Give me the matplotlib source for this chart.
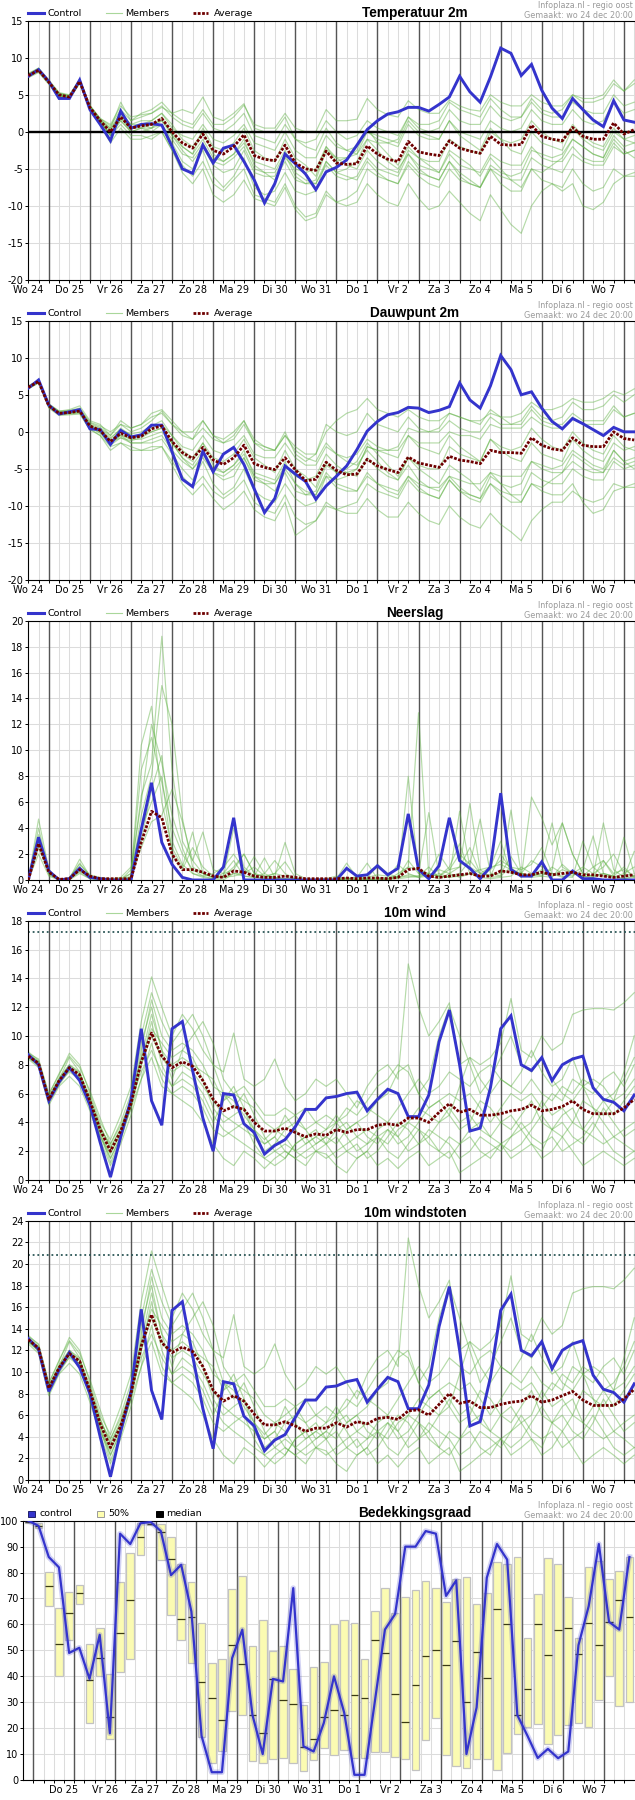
import numpy as np
import matplotlib
matplotlib.use("Agg")
import matplotlib.pyplot as plt
from matplotlib.lines import Line2D
from matplotlib.patches import Rectangle

plt.rcParams["font.family"] = ["DejaVu Sans"]
plt.rcParams["axes.unicode_minus"] = False

W, H = 635, 1800

# ---------------------------------------------------------------- data
day_labels = ["Wo 24", "Do 25", "Vr 26", "Za 27", "Zo 28", "Ma 29", "Di 30", "Wo 31",
              "Do 1", "Vr 2", "Za 3", "Zo 4", "Ma 5", "Di 6", "Wo 7"]
cloud_day_labels = day_labels[1:]

temp_control = [7.5, 8.4, 6.8, 4.5, 4.5, 7.0, 3.0, 1.0, -1.2, 2.8,
                0.5, 1.0, 1.1, 0.9, -2.0, -5.0, -5.6, -1.8, -4.2, -2.2,
                -1.8, -4.0, -6.5, -9.6, -7.0, -3.0, -4.3, -5.7, -7.8, -5.4,
                -4.8, -3.8, -1.8, 0.3, 1.5, 2.4, 2.7, 3.3, 3.3, 2.8,
                3.7, 4.7, 7.5, 5.4, 4.0, 7.4, 11.3, 10.6, 7.6, 9.1,
                5.6, 3.2, 1.8, 4.5, 3.0, 1.6, 0.7, 4.2, 1.6, 1.3]
temp_avg = [7.6, 8.3, 6.7, 5.0, 4.7, 6.8, 3.3, 1.5, 0.0, 2.0,
            0.5, 0.8, 1.0, 1.8, 0.0, -1.5, -2.2, -0.3, -2.5, -3.0,
            -2.0, -0.4, -3.2, -3.7, -3.9, -1.8, -4.2, -5.0, -5.2, -2.6,
            -4.2, -4.4, -4.3, -1.9, -3.0, -3.7, -4.0, -1.3, -2.7, -3.0,
            -3.2, -1.2, -2.2, -2.6, -2.9, -0.6, -1.7, -1.8, -1.7, 0.9,
            -0.6, -1.0, -1.2, 0.6, -0.6, -1.0, -1.0, 1.2, -0.3, 0.3]
temp_members = [
    [7.9, 8.6, 7.0, 5.3, 5.0, 7.1, 3.6, 1.8, 1.0, 3.5,
     2.0, 2.3, 2.5, 3.3, 2.5, 1.5, 1.0, 3.0, 1.0, 1.0,
     2.0, 3.6, 1.0, 0.5, 0.5, 2.5, 0.5, 0.0, 0.0, 3.0,
     1.5, 1.5, 1.7, 4.5, 3.0, 2.3, 2.0, 4.2, 3.0, 2.5,
     2.5, 4.3, 3.5, 3.0, 2.8, 5.0, 4.0, 3.5, 3.5, 5.0,
     4.0, 3.5, 3.5, 5.0, 4.5, 4.5, 5.0, 7.0, 5.5, 6.5],
    [7.3, 8.0, 6.4, 4.7, 4.4, 6.5, 3.0, 1.0, -1.5, 0.5,
     -1.0, -1.0, -0.5, 0.0, -2.5, -4.5, -6.0, -4.0, -7.0, -8.0,
     -6.5, -5.0, -8.5, -9.0, -9.5, -7.0, -10.0, -11.5, -11.0, -8.0,
     -9.5, -10.0, -9.5, -7.0, -8.5, -9.5, -10.0, -7.0, -9.0, -10.5,
     -10.0, -8.0, -9.5, -11.0, -12.0, -8.5, -10.5, -12.5, -13.7, -10.0,
     -8.0, -7.0, -7.5, -5.0, -7.0, -8.0, -7.5, -5.0, -6.0, -5.5],
    [7.7, 8.4, 6.8, 5.2, 4.9, 7.0, 3.5, 1.7, 0.5, 2.5,
     1.0, 1.5, 1.5, 2.5, 0.5, -0.5, -1.0, 1.0, -1.0, -1.5,
     -0.5, 1.0, -1.5, -2.0, -2.5, 0.0, -2.5, -3.5, -3.5, -0.5,
     -2.0, -2.5, -2.0, 0.0, -1.0, -1.5, -2.0, 1.0, -0.5, -1.0,
     -1.0, 1.5, 0.0, -0.5, -1.0, 1.5, 0.5, 0.0, 0.5, 3.0,
     1.5, 1.0, 1.0, 3.0, 1.5, 1.0, 1.5, 4.0, 2.5, 3.0],
    [7.5, 8.2, 6.6, 4.9, 4.6, 6.7, 3.2, 1.3, -0.5, 1.5,
     0.0, 0.0, 0.5, 1.0, -1.0, -3.0, -3.5, -1.5, -4.0, -4.5,
     -3.5, -2.0, -5.0, -5.5, -5.5, -3.0, -6.0, -7.0, -7.0, -4.5,
     -6.0, -6.5, -6.0, -3.5, -5.0, -5.5, -6.0, -3.0, -4.5, -5.0,
     -5.5, -3.0, -4.5, -5.0, -5.5, -3.0, -4.0, -4.5, -4.5, -2.0,
     -3.5, -4.0, -4.0, -2.0, -3.5, -4.0, -4.0, -1.5, -3.0, -2.5],
    [7.6, 8.3, 6.7, 5.0, 4.7, 6.8, 3.3, 1.5, -0.5, 2.0,
     0.0, 0.5, 0.0, 1.0, -1.5, -4.0, -5.0, -2.5, -6.0, -7.5,
     -6.0, -3.5, -7.5, -8.5, -8.0, -5.5, -8.0, -8.5, -8.0, -4.0,
     -5.5, -5.0, -4.0, -1.0, -1.5, -1.5, -1.0, 2.0, 1.0, 1.0,
     1.5, 4.0, 3.0, 2.5, 2.0, 4.5, 3.0, 2.0, 2.0, 4.0,
     2.5, 2.0, 2.0, 4.0, 3.0, 2.5, 2.5, 5.0, 3.5, 4.0],
    [7.8, 8.5, 6.9, 5.2, 4.9, 7.0, 3.5, 1.8, 0.8, 3.0,
     1.5, 2.0, 2.5, 3.5, 2.0, 1.0, 0.5, 2.5, 0.5, 0.0,
     1.0, 2.5, -0.5, -1.0, -1.5, 1.0, -1.0, -2.0, -2.5, 0.5,
     -1.5, -2.5, -3.0, -1.0, -2.5, -4.0, -5.0, -3.0, -5.0, -6.0,
     -6.5, -4.0, -6.0, -7.0, -7.5, -5.0, -7.0, -8.0, -8.0, -5.0,
     -6.5, -7.0, -8.0, -7.0, -10.0, -10.5, -9.5, -7.0, -6.0, -6.0],
    [7.4, 8.1, 6.5, 4.8, 4.5, 6.6, 3.0, 1.2, -0.5, 1.0,
     -0.5, -0.5, -1.0, 0.0, -2.5, -5.5, -7.0, -5.0, -8.5, -9.5,
     -8.5, -6.5, -9.0, -9.5, -10.0, -7.5, -10.5, -12.0, -11.5, -8.5,
     -9.5, -9.0, -8.0, -5.0, -6.0, -6.5, -7.0, -4.0, -5.5, -6.0,
     -6.5, -4.0, -5.5, -6.5, -7.5, -5.0, -6.0, -6.5, -6.5, -3.5,
     -4.5, -5.0, -5.5, -3.0, -4.0, -4.5, -4.5, -2.0, -3.0, -2.5],
    [7.7, 8.6, 6.8, 5.1, 4.8, 6.9, 3.4, 1.6, 0.5, 4.0,
     1.5, 2.5, 3.0, 4.0, 2.5, 3.0, 2.5, 4.7, 2.0, 1.5,
     2.5, 3.8, 0.5, 0.0, 0.0, 2.0, -1.0, -1.5, -1.0, 1.5,
     0.0, -1.0, -0.5, 1.5, 0.5, 0.0, -0.5, 2.0, 0.5, 0.0,
     0.5, 3.0, 1.5, 1.0, 1.0, 3.5, 2.0, 1.5, 2.0, 4.5,
     3.0, 2.5, 3.0, 5.0, 4.0, 4.0, 4.5, 6.5, 5.5, 7.0],
    [7.6, 8.4, 6.7, 5.0, 4.6, 6.9, 3.2, 1.4, 0.2, 2.2,
     0.3, 1.0, 0.5, 2.0, -0.5, -2.0, -3.0, 0.5, -2.0, -2.5,
     -1.5, 0.5, -2.5, -3.5, -4.0, -1.0, -3.5, -4.5, -6.0, -2.0,
     -4.0, -3.5, -2.5, 0.5, -1.5, -3.0, -4.5, -2.0, -3.5, -4.5,
     -5.5, -2.5, -3.5, -4.5, -6.0, -3.5, -5.0, -6.5, -7.5, -5.0,
     -5.5, -4.5, -3.5, -1.0, -2.0, -3.0, -3.5, -0.5, -2.0, -1.5],
    [7.5, 8.2, 6.6, 4.9, 4.7, 6.8, 3.3, 1.5, 0.3, 2.5,
     1.0, 1.0, 1.5, 2.5, 1.0, -1.0, -2.0, 0.0, -3.0, -4.0,
     -3.0, -1.0, -4.5, -5.5, -6.5, -4.0, -6.5, -7.0, -6.5, -2.5,
     -3.5, -3.5, -3.0, 0.0, -0.5, -1.0, -1.5, 1.5, 0.0, -0.5,
     -1.0, 1.5, -0.5, -1.5, -2.5, 0.5, -1.0, -2.5, -3.0, 0.0,
     -1.5, -2.0, -2.5, 0.5, -1.0, -2.0, -2.5, 0.0, -1.0, -0.5],
    [7.8, 8.5, 6.8, 5.1, 4.8, 7.0, 3.4, 1.4, -0.3, 1.8,
     0.5, 0.5, 1.0, 1.5, 0.0, -2.0, -3.0, -1.0, -3.5, -4.0,
     -3.0, -1.5, -4.0, -4.5, -5.0, -2.5, -5.5, -6.5, -7.0, -4.0,
     -5.5, -6.0, -6.5, -4.0, -5.5, -6.5, -7.0, -4.5, -6.0, -7.0,
     -7.5, -5.0, -6.5, -7.0, -7.5, -4.5, -5.5, -6.0, -5.5, -2.5,
     -3.0, -3.5, -3.0, -1.0, -2.0, -3.0, -3.5, -1.0, -2.5, -3.5],
    [7.6, 8.3, 6.6, 4.9, 4.6, 6.6, 3.1, 1.2, -0.2, 1.5,
     0.0, 0.5, 0.5, 1.5, -0.5, -2.5, -4.0, -2.0, -4.5, -5.5,
     -5.0, -2.5, -5.5, -6.0, -6.0, -3.5, -5.0, -5.5, -5.0, -2.0,
     -3.5, -4.5, -5.0, -2.5, -4.0, -5.0, -5.5, -2.5, -3.5, -4.0,
     -4.0, -1.0, -2.0, -2.5, -3.0, 0.0, -1.0, -1.5, -1.0, 1.5,
     0.0, -1.0, -1.5, 1.0, -0.5, -1.5, -2.0, 0.5, -1.0, -1.5],
]

dew_control = [5.9, 7.0, 3.6, 2.4, 2.7, 3.0, 0.4, 0.3, -1.7, 0.2,
               -0.7, -0.4, 0.9, 0.9, -2.7, -6.4, -7.4, -2.6, -5.4, -3.0,
               -2.1, -4.4, -7.7, -10.9, -9.0, -4.6, -5.7, -6.7, -9.1, -7.3,
               -6.0, -4.6, -2.4, 0.1, 1.4, 2.3, 2.6, 3.3, 3.2, 2.6,
               2.9, 3.4, 6.6, 4.3, 3.2, 6.2, 10.3, 8.4, 5.0, 5.4,
               3.2, 1.4, 0.4, 1.8, 1.1, 0.3, -0.5, 0.6, 0.0, 0.0]
dew_avg = [6.0, 6.8, 3.5, 2.5, 2.6, 2.8, 0.8, 0.2, -1.3, -0.2,
           -0.8, -0.6, 0.4, 0.8, -1.3, -2.8, -3.6, -2.1, -3.8, -4.4,
           -3.5, -1.8, -4.3, -4.8, -5.1, -3.5, -5.1, -6.6, -6.4, -4.1,
           -5.2, -5.8, -5.7, -3.7, -4.6, -5.1, -5.5, -3.4, -4.2, -4.5,
           -4.8, -3.3, -3.8, -4.0, -4.3, -2.5, -2.8, -2.8, -2.9, -0.8,
           -1.8, -2.3, -2.5, -0.8, -1.8, -2.0, -2.0, 0.0, -0.9, -1.1]
dew_members = [
    [6.2, 7.0, 3.8, 2.8, 2.9, 3.2, 1.3, 0.8, 0.0, 1.0,
     0.5, 1.0, 2.0, 2.5, 1.0, 0.0, -1.0, 0.5, -1.0, -1.5,
     -1.0, 1.0, -1.5, -2.0, -2.5, -0.5, -2.0, -3.0, -3.0, 0.0,
     1.5, 2.5, 3.0, 4.5, 3.0, 2.5, 2.0, 3.0, 2.0, 1.5,
     1.5, 2.5, 2.0, 1.5, 1.5, 2.5, 2.0, 2.0, 2.5, 4.0,
     3.0, 3.0, 3.5, 4.5, 4.0, 4.0, 4.5, 5.5, 5.0, 5.8],
    [5.8, 6.6, 3.2, 2.2, 2.3, 2.4, 0.3, -0.5, -2.5, -1.5,
     -2.5, -2.5, -2.0, -2.0, -4.0, -6.0, -7.5, -6.0, -8.0, -9.0,
     -8.0, -6.5, -9.5, -10.5, -11.0, -8.5, -11.5, -12.5, -12.0, -9.5,
     -10.5, -11.0, -11.0, -9.0, -10.5, -11.5, -11.5, -9.5, -11.0, -12.0,
     -12.5, -10.0, -11.5, -12.5, -13.0, -11.0, -12.5, -13.5, -14.7, -12.0,
     -10.5, -9.5, -9.5, -8.0, -9.0, -9.5, -9.0, -7.0, -7.5, -7.0],
    [6.1, 6.9, 3.6, 2.7, 2.8, 3.1, 1.0, 0.5, -0.8, 0.3,
     -0.3, 0.0, 0.8, 1.5, -0.5, -2.0, -2.5, -0.5, -2.5, -3.0,
     -2.0, -0.5, -3.0, -3.5, -3.5, -1.5, -3.5, -4.5, -4.5, -2.0,
     -3.0, -3.5, -3.0, -1.0, -2.0, -2.5, -2.5, -0.5, -1.5, -1.5,
     -1.5, 0.0, -0.5, -0.5, -1.0, 1.0, 0.5, 0.5, 0.5, 2.0,
     1.0, 0.5, 0.5, 2.0, 1.0, 1.0, 1.0, 3.0, 2.0, 2.5],
    [5.9, 6.7, 3.4, 2.4, 2.5, 2.6, 0.6, -0.2, -1.8, -0.8,
     -1.5, -1.5, -1.0, -0.5, -2.5, -4.0, -5.0, -3.5, -5.5, -6.0,
     -5.0, -3.5, -6.0, -6.5, -7.0, -5.0, -7.0, -8.5, -8.5, -6.0,
     -7.5, -8.0, -8.0, -6.0, -7.0, -7.5, -8.0, -6.0, -7.0, -7.5,
     -7.5, -6.0, -6.5, -7.0, -7.0, -5.5, -6.0, -6.0, -6.0, -4.0,
     -5.0, -5.5, -5.5, -4.0, -5.0, -5.5, -5.5, -3.5, -4.5, -4.0],
    [6.0, 6.8, 3.5, 2.5, 2.6, 2.8, 0.8, 0.0, -1.5, -0.5,
     -1.5, -1.5, -1.5, -1.0, -3.0, -5.0, -6.5, -4.0, -7.0, -8.5,
     -7.5, -5.0, -8.0, -9.0, -9.5, -7.0, -9.0, -10.0, -9.5, -6.0,
     -6.5, -6.0, -5.0, -2.0, -2.5, -2.5, -2.0, 0.5, 0.0, 0.0,
     0.5, 2.5, 2.0, 1.5, 1.0, 3.0, 2.0, 1.0, 1.0, 3.0,
     1.5, 1.0, 1.0, 2.5, 1.5, 1.5, 1.5, 3.5, 2.0, 2.5],
    [6.1, 6.9, 3.7, 2.7, 2.8, 3.0, 1.2, 0.6, -0.5, 1.0,
     0.0, 0.5, 1.5, 2.8, 1.0, -0.5, -1.0, 1.5, -0.5, -1.5,
     -0.5, 1.5, -1.0, -2.0, -2.5, -0.5, -2.5, -3.5, -4.0, -1.5,
     -3.0, -4.0, -4.5, -2.5, -4.0, -5.5, -6.5, -4.5, -6.5, -7.5,
     -8.0, -6.0, -7.5, -8.5, -9.0, -7.0, -8.5, -9.5, -9.5, -7.0,
     -8.0, -8.5, -8.5, -7.0, -9.5, -11.0, -10.5, -8.0, -7.5, -7.5],
    [5.8, 6.6, 3.3, 2.3, 2.4, 2.5, 0.4, -0.5, -2.0, -1.5,
     -2.0, -2.5, -2.5, -2.0, -4.5, -7.0, -8.5, -7.0, -9.0, -10.5,
     -9.5, -8.0, -10.5, -11.5, -12.0, -9.5, -14.0, -13.0, -12.0, -10.0,
     -10.5, -10.0, -9.5, -7.0, -8.0, -8.5, -9.0, -6.5, -8.0, -8.5,
     -9.0, -6.5, -8.0, -9.0, -9.5, -7.0, -8.0, -8.5, -8.5, -5.5,
     -6.5, -7.0, -7.0, -5.0, -6.0, -6.5, -6.5, -4.0, -5.0, -4.5],
    [6.1, 7.0, 3.7, 2.8, 3.0, 3.5, 1.5, 1.0, -0.5, 1.5,
     0.5, 1.0, 2.5, 3.0, 1.5, 0.0, 0.0, 1.5, -0.5, -1.0,
     0.0, 1.5, -1.5, -2.5, -2.5, 0.0, -3.0, -4.0, -3.0, 1.0,
     0.0, -0.5, 0.0, 2.5, 1.0, 0.5, 0.0, 2.0, 0.5, 0.0,
     0.0, 1.5, 0.5, 0.0, 0.0, 2.0, 1.0, 1.0, 1.5, 3.5,
     2.0, 1.5, 2.0, 4.0, 3.0, 3.0, 3.5, 5.0, 4.0, 5.0],
    [6.0, 6.9, 3.5, 2.6, 2.6, 2.9, 0.7, 0.1, -1.2, -0.3,
     -1.0, -0.5, 0.0, 0.5, -1.5, -3.0, -4.0, -1.5, -3.5, -4.0,
     -3.0, -1.0, -3.5, -4.5, -5.5, -2.5, -5.0, -6.0, -7.5, -4.0,
     -5.5, -5.0, -4.0, -1.5, -3.0, -4.5, -6.0, -3.5, -5.0, -6.0,
     -7.0, -4.5, -5.5, -6.5, -8.0, -5.5, -7.0, -8.5, -9.5, -7.0,
     -7.5, -6.5, -5.5, -3.0, -4.0, -5.0, -5.5, -2.5, -4.0, -3.5],
    [5.9, 6.7, 3.4, 2.5, 2.6, 2.7, 0.8, 0.3, -1.0, 0.5,
     -0.5, -0.5, 0.5, 1.0, -0.5, -2.5, -3.5, -1.5, -4.5, -5.5,
     -4.5, -2.5, -6.0, -7.0, -8.0, -5.5, -8.0, -8.5, -8.0, -4.5,
     -5.5, -5.5, -5.0, -2.0, -2.5, -3.0, -3.5, -0.5, -2.0, -2.5,
     -3.0, -0.5, -2.0, -3.0, -4.0, -1.0, -2.5, -3.5, -4.0, -1.5,
     -3.0, -3.5, -4.0, -1.0, -2.5, -3.5, -4.0, -1.5, -2.5, -2.0],
    [6.1, 6.8, 3.6, 2.5, 2.7, 2.9, 0.9, 0.2, -1.5, -0.5,
     -1.0, -1.0, -0.5, 0.0, -1.5, -3.5, -4.5, -2.5, -5.0, -5.5,
     -4.5, -3.0, -5.5, -6.0, -6.5, -4.0, -7.0, -8.0, -8.5, -5.5,
     -7.0, -7.5, -8.0, -5.5, -7.0, -8.0, -8.5, -6.0, -7.5, -8.5,
     -9.0, -6.5, -8.0, -8.5, -9.0, -6.0, -7.0, -7.5, -7.0, -4.0,
     -4.5, -5.0, -4.5, -2.5, -3.5, -4.5, -5.0, -2.5, -4.0, -5.0],
    [6.0, 6.8, 3.5, 2.4, 2.5, 2.7, 0.6, -0.1, -1.4, -0.8,
     -1.2, -0.8, 0.0, 0.5, -1.5, -3.5, -5.0, -3.0, -5.5, -6.5,
     -6.0, -3.5, -6.5, -7.0, -7.0, -4.5, -6.0, -6.5, -6.0, -3.0,
     -4.5, -5.5, -6.0, -3.5, -5.0, -6.0, -6.5, -3.5, -4.5, -5.0,
     -5.0, -2.0, -3.0, -3.5, -4.0, -1.0, -2.0, -2.5, -2.0, 0.5,
     -1.0, -2.0, -2.5, 0.0, -1.5, -2.5, -3.0, -0.5, -2.0, -2.5],
]

rain_control = [0.0, 3.3, 0.7, 0.0, 0.1, 0.9, 0.2, 0.1, 0.0, 0.0,
                0.0, 3.9, 7.5, 2.9, 1.2, 0.2, 0.0, 0.0, 0.0, 1.0,
                4.8, 0.0, 0.0, 0.0, 0.0, 0.0, 0.0, 0.0, 0.0, 0.0,
                0.0, 0.9, 0.3, 0.4, 1.1, 0.4, 0.9, 5.1, 0.8, 0.1,
                1.1, 4.8, 1.5, 0.9, 0.1, 1.0, 6.7, 0.8, 0.3, 0.3,
                1.4, 0.0, 0.0, 0.7, 0.1, 0.1, 0.0, 0.0, 0.0, 0.0]
rain_avg = [0.0, 2.8, 0.6, 0.05, 0.1, 0.8, 0.3, 0.1, 0.1, 0.1,
            0.1, 2.9, 5.3, 4.8, 2.0, 0.8, 0.8, 0.6, 0.3, 0.2,
            0.7, 0.6, 0.3, 0.2, 0.2, 0.3, 0.2, 0.1, 0.1, 0.1,
            0.1, 0.15, 0.1, 0.15, 0.15, 0.1, 0.2, 0.8, 0.9, 0.3,
            0.2, 0.3, 0.4, 0.5, 0.3, 0.3, 0.7, 0.6, 0.4, 0.4,
            0.6, 0.4, 0.5, 0.6, 0.4, 0.4, 0.3, 0.2, 0.3, 0.4]
rain_members = [
    [0, 4.7, 0.8, 0, 0.1, 1.6, 0.3, 0.1, 0, 0,
     0.2, 10.4, 13.4, 6.0, 2.5, 1.0, 3.7, 0.5, 0.2, 0.5,
     1.5, 0.3, 0.2, 0.2, 0.5, 0.3, 0.1, 0, 0, 0.1,
     0, 0.2, 0, 0.1, 0.2, 0.1, 0.3, 1.0, 12.9, 0.3,
     0.1, 0.5, 1.0, 5.9, 0.8, 0.2, 0.3, 1.0, 0.2, 6.4,
     4.8, 2.7, 4.4, 2.0, 0.5, 0.3, 0.5, 0.2, 0.1, 0.3],
    [0, 3.5, 0.5, 0, 0.1, 0.8, 0.2, 0.1, 0, 0,
     0.5, 6.5, 9.0, 18.8, 8.5, 3.0, 1.5, 3.7, 0.8, 0.5,
     0.8, 2.0, 0.5, 0.2, 0.3, 2.9, 0.5, 0.1, 0, 0,
     0.1, 0.1, 0.2, 1.3, 0.1, 0, 0.2, 1.5, 0.5, 5.2,
     0.3, 0.8, 2.0, 1.2, 4.7, 0.5, 0.3, 5.4, 0.5, 0.2,
     0.3, 1.0, 0.5, 0.3, 0.8, 3.4, 0.5, 0.3, 1.0, 0.2],
    [0, 2.5, 0.6, 0, 0.2, 1.2, 0.4, 0.2, 0.1, 0.1,
     0.1, 5.0, 8.0, 15.0, 12.0, 4.8, 1.0, 0.5, 0.2, 0.3,
     4.0, 1.0, 0.3, 1.7, 0.2, 0.1, 0, 0, 0.1, 0.1,
     0.3, 0.1, 0.1, 0.2, 0.4, 0.3, 0.2, 8.0, 0.5, 0.2,
     0.5, 0.2, 0.3, 0.5, 0.8, 1.0, 1.2, 0.8, 0.5, 0.3,
     0.5, 0.8, 4.4, 2.0, 0.5, 0.3, 4.4, 0.8, 0.2, 2.2],
    [0, 3.0, 0.4, 0, 0, 0.5, 0.1, 0, 0, 0,
     0.3, 3.0, 7.0, 9.6, 3.0, 1.2, 0.5, 0.2, 0.1, 0.2,
     0.3, 0.5, 1.8, 0.5, 0.1, 0, 0, 0, 0, 0,
     0, 0.1, 0, 0, 0.1, 0.2, 1.2, 0.5, 0.2, 0.3,
     0.8, 0.5, 0.2, 0.5, 0.3, 0.8, 1.5, 1.0, 0.8, 1.2,
     2.5, 0.5, 0.3, 0.2, 3.0, 1.0, 1.5, 0.3, 3.3, 0.5],
    [0, 2.0, 0.3, 0, 0.1, 1.0, 0.2, 0.1, 0, 0.1,
     0.5, 8.5, 11.0, 7.5, 4.0, 2.0, 0.8, 0.3, 0.1, 0,
     0.5, 0.3, 0.2, 0.1, 0.1, 0, 0, 0, 0, 0,
     0.1, 1.3, 0.2, 0.1, 1.2, 0.5, 0.2, 0.3, 0.2, 0.5,
     0.3, 1.0, 2.8, 0.5, 0.2, 0.1, 0.2, 0.3, 1.0, 0.5,
     0.3, 0.2, 1.2, 0.5, 0.3, 0.2, 0.5, 0.3, 0.1, 0.2],
    [0, 4.0, 0.7, 0.1, 0.1, 1.3, 0.3, 0, 0, 0,
     0.8, 6.0, 12.0, 9.0, 5.0, 2.5, 0.5, 0.3, 0.5, 1.0,
     2.0, 0.8, 0.2, 0.5, 1.5, 0.5, 0.1, 0, 0, 0,
     0, 0, 0, 0, 0.1, 0, 0.5, 1.0, 0.8, 0.5,
     0.3, 0.2, 5.3, 1.0, 0.5, 0.3, 2.0, 0.8, 0.5, 1.5,
     1.0, 4.4, 1.0, 0.5, 0.3, 0.2, 1.5, 0.5, 0.8, 0.3],
    [0, 3.2, 0.5, 0, 0, 0.7, 0.2, 0.1, 0.1, 0.2,
     1.0, 4.0, 6.0, 8.0, 2.0, 0.8, 2.5, 1.0, 0.3, 0.2,
     0.5, 0.5, 1.0, 0.3, 0.2, 0.1, 0.1, 0, 0, 0,
     0, 0, 0.3, 0, 0, 0.1, 0.2, 0.4, 0.3, 1.0,
     0.2, 0.3, 0.5, 1.5, 0.5, 0.4, 0.5, 1.8, 0.5, 0.3,
     0.5, 0.3, 0.8, 0.5, 0.3, 1.0, 0.3, 0.2, 0.5, 1.0],
    [0, 2.8, 0.6, 0, 0.1, 0.6, 0.1, 0, 0, 0,
     0.2, 2.5, 4.5, 5.0, 7.0, 4.5, 1.5, 0.5, 0.2, 0.3,
     1.0, 2.0, 0.5, 0.3, 0.5, 1.4, 0.2, 0, 0, 0,
     0, 0, 0, 0, 0, 0.1, 0.1, 0.2, 0.3, 0.5,
     2.0, 0.8, 1.0, 2.5, 0.5, 1.0, 3.0, 0.5, 0.5, 0.3,
     0.8, 0.5, 0.2, 0.5, 1.0, 0.5, 1.0, 2.0, 0.5, 0.3],
]

wind_control = [8.7, 8.0, 5.5, 6.8, 7.8, 6.9, 5.2, 2.6, 0.2, 3.0,
                5.6, 10.5, 5.5, 3.8, 10.5, 11.0, 7.6, 4.3, 2.0, 6.0,
                5.9, 3.9, 3.3, 1.8, 2.4, 2.8, 3.7, 4.9, 4.9, 5.7,
                5.8, 6.0, 6.1, 4.8, 5.6, 6.3, 6.0, 4.4, 4.4, 5.9,
                9.6, 11.8, 8.0, 3.4, 3.6, 6.4, 10.5, 11.4, 8.0, 7.6,
                8.5, 6.9, 8.0, 8.4, 8.6, 6.4, 5.6, 5.4, 4.8, 5.9]
wind_avg = [8.6, 8.1, 5.6, 6.9, 7.8, 7.3, 5.5, 3.5, 2.0, 3.4,
            5.3, 8.2, 10.2, 8.6, 7.8, 8.2, 7.9, 6.9, 5.6, 4.8,
            5.1, 4.9, 4.0, 3.4, 3.4, 3.6, 3.3, 3.0, 3.2, 3.1,
            3.5, 3.3, 3.5, 3.5, 3.8, 3.9, 3.8, 4.3, 4.3, 4.0,
            4.7, 5.3, 4.7, 4.9, 4.5, 4.5, 4.6, 4.8, 4.9, 5.2,
            4.8, 4.9, 5.1, 5.5, 4.9, 4.6, 4.6, 4.6, 5.0, 5.6]
wind_members = [
    [8.8, 8.4, 6.0, 7.3, 8.8, 8.0, 6.0, 4.0, 2.8, 4.5,
     6.5, 11.0, 14.1, 12.0, 10.0, 11.5, 10.5, 9.0, 8.0, 7.5,
     10.2, 7.0, 6.5, 7.0, 8.4, 6.5, 5.5, 6.0, 7.0, 6.5,
     7.0, 6.0, 5.0, 6.5, 7.5, 8.0, 7.0, 15.0, 12.0, 10.0,
     11.0, 12.3, 8.0, 8.5, 8.0, 8.5, 9.5, 12.6, 9.0, 8.5,
     10.0, 9.0, 9.5, 11.5, 11.8, 11.9, 11.9, 11.8, 12.3, 13.0],
    [8.4, 7.8, 5.2, 6.5, 7.2, 6.5, 4.8, 2.8, 1.0, 2.5,
     4.5, 7.0, 8.5, 6.5, 6.0, 5.5, 5.0, 4.0, 2.5, 1.5,
     1.0, 2.0, 1.5, 0.8, 1.5, 2.0, 1.5, 1.0, 2.0, 1.8,
     1.0, 0.5, 1.5, 2.0, 1.0, 1.5, 0.8, 1.5, 2.0, 1.0,
     1.5, 2.0, 0.5, 1.0, 1.5, 2.0, 2.5, 1.5, 2.0, 2.5,
     1.5, 2.0, 3.0, 2.0, 1.0, 1.5, 2.0, 1.5, 1.0, 1.5],
    [8.7, 8.2, 5.8, 7.0, 8.0, 7.5, 5.5, 3.0, 1.5, 3.0,
     5.5, 9.5, 12.0, 9.0, 7.0, 9.0, 8.5, 7.0, 5.0, 4.0,
     4.5, 5.0, 3.0, 2.0, 2.5, 3.5, 4.0, 3.5, 2.5, 3.0,
     4.0, 5.0, 4.5, 5.5, 6.5, 7.0, 8.0, 7.5, 6.0, 7.0,
     10.0, 12.0, 10.0, 8.0, 6.0, 7.0, 8.5, 10.0, 8.0, 7.5,
     8.5, 7.0, 6.0, 5.5, 6.5, 7.0, 6.5, 5.5, 6.0, 7.0],
    [8.5, 8.0, 5.5, 6.8, 7.5, 7.0, 5.5, 3.5, 2.5, 4.0,
     6.0, 10.0, 13.0, 11.0, 9.5, 10.5, 11.5, 10.0, 8.0, 6.0,
     5.0, 6.0, 4.5, 3.0, 2.0, 1.5, 2.5, 3.0, 2.0, 1.5,
     2.0, 2.5, 3.0, 3.5, 3.0, 2.5, 3.5, 4.0, 3.5, 3.0,
     4.0, 5.0, 4.0, 4.5, 3.5, 3.0, 4.0, 3.5, 4.5, 5.5,
     4.0, 3.5, 4.5, 5.0, 3.5, 3.0, 2.5, 3.0, 3.5, 4.0],
    [8.6, 8.1, 5.6, 7.0, 8.5, 7.5, 5.0, 3.0, 1.8, 3.2,
     5.0, 8.0, 11.0, 8.0, 6.5, 7.5, 7.0, 6.0, 4.5, 3.5,
     3.0, 2.5, 2.0, 1.5, 2.0, 2.5, 2.0, 2.5, 3.0, 3.5,
     4.0, 3.0, 2.0, 2.5, 3.0, 3.5, 2.5, 3.0, 4.0, 5.0,
     5.5, 4.5, 6.5, 8.5, 7.0, 6.0, 7.0, 6.5, 7.5, 9.0,
     7.5, 6.5, 7.0, 8.5, 6.5, 5.0, 4.5, 5.5, 7.5, 10.0],
    [8.9, 8.3, 5.9, 7.4, 8.6, 7.8, 6.2, 4.3, 2.5, 3.8,
     5.5, 7.5, 9.0, 7.5, 6.5, 7.0, 6.5, 5.5, 4.0, 5.5,
     6.5, 5.0, 3.5, 2.5, 3.0, 4.5, 3.5, 2.5, 3.0, 2.5,
     3.5, 4.0, 3.0, 2.5, 3.5, 4.0, 3.0, 2.0, 2.5, 3.5,
     3.0, 2.5, 1.5, 2.0, 3.0, 2.5, 2.0, 3.0, 3.5, 2.5,
     2.0, 3.5, 4.0, 3.0, 2.5, 3.5, 5.0, 4.0, 3.0, 3.5],
    [8.5, 7.9, 5.4, 6.6, 7.6, 7.2, 5.2, 3.2, 1.2, 2.8,
     5.0, 9.0, 12.5, 10.0, 9.0, 9.5, 9.0, 8.0, 6.5, 6.0,
     5.5, 4.5, 3.5, 2.8, 3.5, 3.0, 2.0, 1.5, 2.0, 2.5,
     1.5, 2.0, 2.5, 1.5, 2.0, 3.0, 4.0, 3.5, 2.5, 3.0,
     2.0, 1.5, 2.5, 3.5, 4.0, 3.0, 2.5, 2.0, 2.5, 3.5,
     4.5, 3.5, 3.0, 4.0, 5.5, 5.0, 4.0, 3.0, 2.5, 2.0],
    [8.7, 8.2, 5.7, 7.1, 8.0, 7.4, 5.8, 3.8, 2.2, 3.6,
     5.6, 8.5, 10.5, 9.5, 8.5, 9.0, 10.0, 11.0, 9.5, 7.0,
     6.0, 5.5, 5.0, 4.0, 3.5, 4.0, 4.5, 5.0, 4.0, 3.5,
     4.5, 3.5, 4.0, 4.5, 5.5, 6.0, 7.5, 8.0, 6.0, 5.0,
     5.5, 6.0, 5.5, 6.0, 5.0, 4.0, 5.0, 6.0, 5.5, 6.0,
     5.0, 6.0, 5.5, 7.0, 6.5, 6.0, 7.0, 7.5, 6.5, 8.0],
    [8.6, 8.0, 5.5, 6.9, 7.9, 7.3, 5.3, 3.3, 1.5, 3.0,
     5.0, 7.0, 9.5, 7.0, 6.0, 6.5, 6.0, 5.0, 3.5, 3.0,
     3.5, 4.0, 2.5, 1.5, 1.0, 1.5, 2.5, 3.0, 3.5, 2.5,
     3.0, 2.0, 1.5, 2.0, 3.0, 2.0, 1.5, 2.5, 3.5, 2.5,
     2.0, 3.0, 2.5, 3.0, 2.0, 1.5, 2.5, 3.0, 4.0, 3.0,
     2.5, 3.0, 2.0, 2.5, 3.0, 4.0, 3.0, 2.0, 1.5, 2.0],
    [8.8, 8.2, 5.7, 7.0, 7.8, 7.1, 5.6, 3.7, 2.3, 3.5,
     5.5, 8.5, 11.5, 9.0, 8.0, 8.5, 8.0, 7.5, 7.0, 5.5,
     6.0, 6.5, 5.5, 4.5, 4.5, 5.0, 4.5, 3.5, 4.0, 4.5,
     4.0, 4.5, 5.5, 5.0, 4.5, 4.0, 5.0, 6.0, 7.0, 6.0,
     6.5, 7.5, 7.0, 6.5, 7.5, 8.0, 7.0, 6.5, 6.0, 7.0,
     6.0, 5.5, 6.5, 6.0, 7.0, 6.5, 5.5, 6.0, 7.0, 8.5],
    [8.5, 8.0, 5.5, 6.7, 7.7, 7.1, 5.4, 3.4, 1.9, 3.3,
     5.2, 8.0, 10.0, 8.5, 7.5, 8.0, 7.5, 6.5, 5.5, 4.5,
     4.0, 3.5, 3.0, 2.5, 3.0, 2.0, 1.5, 2.0, 2.5, 3.0,
     2.5, 3.5, 4.0, 3.0, 2.5, 3.5, 3.0, 4.0, 5.0, 4.5,
     4.0, 4.5, 3.5, 4.0, 5.5, 5.0, 4.0, 4.5, 3.5, 4.0,
     5.5, 4.5, 5.0, 4.0, 3.5, 4.5, 5.5, 4.5, 5.5, 6.5],
]
wind_threshold = 17.2

gust_control = [13.1, 12.1, 8.2, 10.2, 11.8, 10.4, 8.0, 4.0, 0.3, 4.5,
                8.2, 15.8, 8.3, 5.6, 15.7, 16.5, 11.5, 6.6, 2.9, 9.1,
                8.9, 5.9, 5.0, 2.7, 3.7, 4.2, 5.8, 7.4, 7.4, 8.6,
                8.7, 9.1, 9.3, 7.2, 8.4, 9.5, 9.1, 6.6, 6.6, 8.8,
                14.2, 17.9, 12.0, 5.0, 5.4, 9.5, 15.7, 17.2, 12.0, 11.5,
                12.8, 10.3, 12.0, 12.6, 12.9, 9.7, 8.4, 8.1, 7.2, 8.9]
gust_avg = [13.0, 12.2, 8.5, 10.4, 11.7, 11.0, 8.3, 5.2, 3.0, 5.0,
            8.0, 12.4, 15.3, 12.7, 11.8, 12.3, 11.9, 10.5, 8.3, 7.3,
            7.8, 7.3, 6.1, 5.1, 5.1, 5.4, 5.0, 4.5, 4.8, 4.8,
            5.3, 4.9, 5.4, 5.2, 5.7, 5.8, 5.6, 6.4, 6.5, 6.0,
            7.0, 8.0, 7.1, 7.3, 6.7, 6.7, 7.0, 7.2, 7.3, 7.8,
            7.2, 7.4, 7.8, 8.2, 7.4, 6.9, 6.9, 6.9, 7.5, 8.4]
gust_members = [
    [13.3, 12.6, 9.0, 11.0, 13.2, 12.0, 9.0, 6.0, 4.2, 6.8,
     9.8, 16.5, 21.2, 18.0, 15.0, 17.3, 15.8, 13.5, 12.0, 11.3,
     15.3, 10.5, 9.8, 10.5, 12.6, 9.8, 8.3, 9.0, 10.5, 9.8,
     10.5, 9.0, 7.5, 9.8, 11.3, 12.0, 10.5, 22.4, 18.0, 15.0,
     16.5, 18.5, 12.0, 12.8, 12.0, 12.8, 14.3, 18.9, 13.5, 12.8,
     15.0, 13.5, 14.3, 17.3, 17.7, 17.9, 17.9, 17.7, 18.5, 19.6],
    [12.6, 11.7, 7.8, 9.8, 10.8, 9.8, 7.2, 4.2, 1.5, 3.8,
     6.8, 10.5, 12.8, 9.8, 9.0, 8.3, 7.5, 6.0, 3.8, 2.3,
     1.5, 3.0, 2.3, 1.2, 2.3, 3.0, 2.3, 1.5, 3.0, 2.7,
     1.5, 0.8, 2.3, 3.0, 1.5, 2.3, 1.2, 2.3, 3.0, 1.5,
     2.3, 3.0, 0.8, 1.5, 2.3, 3.0, 3.8, 2.3, 3.0, 3.8,
     2.3, 3.0, 4.5, 3.0, 1.5, 2.3, 3.0, 2.3, 1.5, 2.3],
    [13.1, 12.3, 8.7, 10.5, 12.0, 11.3, 8.3, 4.5, 2.3, 4.5,
     8.3, 14.3, 18.0, 13.5, 10.5, 13.5, 12.8, 10.5, 7.5, 6.0,
     6.8, 7.5, 4.5, 3.0, 3.8, 5.3, 6.0, 5.3, 3.8, 4.5,
     6.0, 7.5, 6.8, 8.3, 9.8, 10.5, 12.0, 11.3, 9.0, 10.5,
     15.0, 18.0, 15.0, 12.0, 9.0, 10.5, 12.8, 15.0, 12.0, 11.3,
     12.8, 10.5, 9.0, 8.3, 9.8, 10.5, 9.8, 8.3, 9.0, 10.5],
    [12.8, 12.0, 8.3, 10.2, 11.3, 10.5, 8.3, 5.3, 3.8, 6.0,
     9.0, 15.0, 19.5, 16.5, 14.3, 15.8, 17.3, 15.0, 12.0, 9.0,
     7.5, 9.0, 6.8, 4.5, 3.0, 2.3, 3.8, 4.5, 3.0, 2.3,
     3.0, 3.8, 4.5, 5.3, 4.5, 3.8, 5.3, 6.0, 5.3, 4.5,
     6.0, 7.5, 6.0, 6.8, 5.3, 4.5, 6.0, 5.3, 6.8, 8.3,
     6.0, 5.3, 6.8, 7.5, 5.3, 4.5, 3.8, 4.5, 5.3, 6.0],
    [12.9, 12.2, 8.4, 10.5, 12.8, 11.3, 7.5, 4.5, 2.7, 4.8,
     7.5, 12.0, 16.5, 12.0, 9.8, 11.3, 10.5, 9.0, 6.8, 5.3,
     4.5, 3.8, 3.0, 2.3, 3.0, 3.8, 3.0, 3.8, 4.5, 5.3,
     6.0, 4.5, 3.0, 3.8, 4.5, 5.3, 3.8, 4.5, 6.0, 7.5,
     8.3, 6.8, 9.8, 12.8, 10.5, 9.0, 10.5, 9.8, 11.3, 13.5,
     11.3, 9.8, 10.5, 12.8, 9.8, 7.5, 6.8, 8.3, 11.3, 15.0],
    [13.4, 12.5, 8.9, 11.1, 12.9, 11.7, 9.3, 6.5, 3.8, 5.7,
     8.3, 11.3, 13.5, 11.3, 9.8, 10.5, 9.8, 8.3, 6.0, 8.3,
     9.8, 7.5, 5.3, 3.8, 4.5, 6.8, 5.3, 3.8, 4.5, 3.8,
     5.3, 6.0, 4.5, 3.8, 5.3, 6.0, 4.5, 3.0, 3.8, 5.3,
     4.5, 3.8, 2.3, 3.0, 4.5, 3.8, 3.0, 4.5, 5.3, 3.8,
     3.0, 5.3, 6.0, 4.5, 3.8, 5.3, 7.5, 6.0, 4.5, 5.3],
    [12.8, 11.9, 8.1, 9.9, 11.4, 10.8, 7.8, 4.8, 1.8, 4.2,
     7.5, 13.5, 18.8, 15.0, 13.5, 14.3, 13.5, 12.0, 9.8, 9.0,
     8.3, 6.8, 5.3, 4.2, 5.3, 4.5, 3.0, 2.3, 3.0, 3.8,
     2.3, 3.0, 3.8, 2.3, 3.0, 4.5, 6.0, 5.3, 3.8, 4.5,
     3.0, 2.3, 3.8, 5.3, 6.0, 4.5, 3.8, 3.0, 3.8, 5.3,
     6.8, 5.3, 4.5, 6.0, 8.3, 7.5, 6.0, 4.5, 3.8, 3.0],
    [13.1, 12.3, 8.6, 10.7, 12.0, 11.1, 8.7, 5.7, 3.3, 5.4,
     8.4, 12.8, 15.8, 14.3, 12.8, 13.5, 15.0, 16.5, 14.3, 10.5,
     9.0, 8.3, 7.5, 6.0, 5.3, 6.0, 6.8, 7.5, 6.0, 5.3,
     6.8, 5.3, 6.0, 6.8, 8.3, 9.0, 11.3, 12.0, 9.0, 7.5,
     8.3, 9.0, 8.3, 9.0, 7.5, 6.0, 7.5, 9.0, 8.3, 9.0,
     7.5, 9.0, 8.3, 10.5, 9.8, 9.0, 10.5, 11.3, 9.8, 12.0],
    [12.9, 12.0, 8.3, 10.4, 11.9, 11.0, 8.0, 5.0, 2.3, 4.5,
     7.5, 10.5, 14.3, 10.5, 9.0, 9.8, 9.0, 7.5, 5.3, 4.5,
     5.3, 6.0, 3.8, 2.3, 1.5, 2.3, 3.8, 4.5, 5.3, 3.8,
     4.5, 3.0, 2.3, 3.0, 4.5, 3.0, 2.3, 3.8, 5.3, 3.8,
     3.0, 4.5, 3.8, 4.5, 3.0, 2.3, 3.8, 4.5, 6.0, 4.5,
     3.8, 4.5, 3.0, 3.8, 4.5, 6.0, 4.5, 3.0, 2.3, 3.0],
    [13.2, 12.3, 8.6, 10.5, 11.7, 10.7, 8.4, 5.6, 3.5, 5.3,
     8.3, 12.8, 17.3, 13.5, 12.0, 12.8, 12.0, 11.3, 10.5, 8.3,
     9.0, 9.8, 8.3, 6.8, 6.8, 7.5, 6.8, 5.3, 6.0, 6.8,
     6.0, 6.8, 8.3, 7.5, 6.8, 6.0, 7.5, 9.0, 10.5, 9.0,
     9.8, 11.3, 10.5, 9.8, 11.3, 12.0, 10.5, 9.8, 9.0, 10.5,
     9.0, 8.3, 9.8, 9.0, 10.5, 9.8, 8.3, 9.0, 10.5, 12.8],
    [12.8, 12.0, 8.3, 10.1, 11.6, 10.7, 8.1, 5.1, 2.9, 5.0,
     7.8, 12.0, 15.0, 12.8, 11.3, 12.0, 11.3, 9.8, 8.3, 6.8,
     6.0, 5.3, 4.5, 3.8, 4.5, 3.0, 2.3, 3.0, 3.8, 4.5,
     3.8, 5.3, 6.0, 4.5, 3.8, 5.3, 4.5, 6.0, 7.5, 6.8,
     6.0, 6.8, 5.3, 6.0, 8.3, 7.5, 6.0, 6.8, 5.3, 6.0,
     8.3, 6.8, 7.5, 6.0, 5.3, 6.8, 8.3, 6.8, 8.3, 9.8],
]
gust_threshold = 20.8

cloud_control = [100, 98, 86, 82, 49, 51, 39, 56, 18, 95,
                 91, 99, 99.5, 96, 79, 83, 65, 17, 3, 3,
                 47, 58, 25, 10, 39, 38, 74, 13, 11, 22,
                 40, 26, 2, 2, 30, 58, 64, 90, 90, 96,
                 95, 71, 77, 10, 28, 78, 91, 85, 25, 17,
                 8.5, 12, 8.4, 11, 52, 67, 91, 61, 58, 86]
cloud_q25 = [99.0, 97.0, 67.0, 40.0, 54.0, 67.7, 22.0, 40.0, 15.8, 41.8,
             46.5, 86.6, 98.2, 84.7, 63.5, 54.0, 45.0, 16.5, 6.4, 11.2,
             26.6, 25.0, 7.3, 6.4, 8.1, 8.4, 6.4, 3.3, 7.7, 12.2,
             9.5, 11.6, 8.4, 8.4, 10.9, 10.9, 9.0, 8.1, 3.9, 15.4,
             23.8, 9.5, 5.3, 4.5, 8.0, 8.0, 3.9, 10.3, 17.7, 20.3,
             21.5, 13.8, 17.2, 21.1, 21.9, 20.3, 30.7, 40.1, 28.5, 29.9]
cloud_q75 = [100, 99.0, 80.3, 66.5, 72.6, 75.2, 52.6, 58.5, 40.7, 76.2,
             87.4, 99.0, 99.0, 98.6, 93.6, 83.2, 76.2, 60.7, 45.3, 46.5,
             73.8, 78.8, 51.5, 61.6, 49.6, 51.8, 42.7, 28.8, 43.7, 45.4,
             60.0, 61.6, 60.7, 46.5, 65.0, 74.0, 64.3, 70.4, 73.3, 76.6,
             73.9, 68.8, 77.6, 78.4, 67.7, 72.0, 83.9, 83.2, 86.1, 54.6,
             71.6, 85.5, 83.2, 70.7, 54.6, 82.0, 84.3, 77.6, 80.5, 86.1]
cloud_median = [99.5, 98.0, 75.0, 52.3, 64.5, 72.3, 38.4, 46.9, 24.2, 56.6,
                69.4, 93.6, 98.6, 95.5, 85.1, 62.0, 62.7, 37.9, 31.5, 23.0,
                51.9, 44.6, 24.9, 18.0, 38.9, 30.7, 29.2, 12.6, 15.7, 24.4,
                26.9, 25.0, 32.6, 31.5, 53.9, 48.9, 33.2, 22.4, 36.6, 47.8,
                50.0, 44.3, 53.5, 30.0, 49.2, 39.2, 65.8, 60.0, 24.9, 35.2,
                60.0, 48.1, 57.7, 58.5, 48.5, 60.4, 51.9, 60.8, 69.4, 62.7]

# ---------------------------------------------------------------- style
BLUE = "#3434cc"
MEMBER = "#5cb040"
RED = "#6e0000"
GRID = "#dcdcdc"
DAYLINE = "#555555"
TEAL = "#2b5656"


def fx(px):
    return px / W


def fy(py):
    return 1 - py / H


fig = plt.figure(figsize=(W / 100, H / 100), dpi=100)


def header(n, title, cloud=False):
    y0 = 300 * n
    fig.text(fx(415), fy(y0 + 13), title, ha="center", va="center",
             fontsize=9.8, fontweight="bold", family="Liberation Sans")
    fig.text(fx(633), fy(y0 + 5), "Infoplaza.nl - regio oost", ha="right",
             va="center", fontsize=5.8, color="#9a9a9a")
    fig.text(fx(633), fy(y0 + 15.5), "Gemaakt: wo 24 dec 20:00", ha="right",
             va="center", fontsize=5.8, color="#9a9a9a")
    ly = fy(y0 + 13.3)
    if not cloud:
        fig.add_artist(Line2D([fx(28.3), fx(44)], [ly, ly], color=BLUE, lw=2.2,
                              transform=fig.transFigure))
        fig.text(fx(47.5), ly, "Control", va="center", fontsize=6.8)
        fig.add_artist(Line2D([fx(106), fx(122)], [ly, ly], color="#a9d79a",
                              lw=0.8, transform=fig.transFigure))
        fig.text(fx(125.5), ly, "Members", va="center", fontsize=6.8)
        fig.add_artist(Line2D([fx(193), fx(208)], [ly, ly], color=RED, lw=2.0,
                              ls=(0, (1, 0.55)), transform=fig.transFigure))
        fig.text(fx(214), ly, "Average", va="center", fontsize=6.8)
    else:
        items = [(28.3, BLUE, "#20206a", "control", 39),
                 (97, "#ffffb0", "#9a9a9a", "50%", 108),
                 (156, "#000000", "#000000", "median", 166)]
        for x0, fc, ec, txt, tx in items:
            fig.add_artist(Rectangle((fx(x0), fy(y0 + 17)), 6.5 / W, 6.5 / H,
                                     facecolor=fc, edgecolor=ec, lw=0.7,
                                     transform=fig.transFigure))
            fig.text(fx(tx), ly, txt, va="center", fontsize=6.8)


def make_axes(n, left, xlim, ylim, ystep):
    top, bottom = 300 * n + 20.7, 300 * n + 280
    ax = fig.add_axes([fx(left), fy(bottom), (634.5 - left) / W, (bottom - top) / H])
    ax.set_xlim(*xlim)
    ax.set_ylim(*ylim)
    ax.set_yticks(np.arange(ylim[0], ylim[1] + 0.01, ystep))
    ax.grid(True, color=GRID, lw=0.75)
    ax.set_axisbelow(True)
    for side in ("top", "left", "bottom"):
        ax.spines[side].set_linewidth(0.8)
    ax.spines["right"].set_visible(False)
    ax.tick_params(axis="x", length=2.3, width=0.7, pad=1.5, labelsize=7)
    ax.tick_params(axis="y", length=2.0, width=0.7, pad=1.5, labelsize=7)
    return ax


def ensemble_panel(n, title, control, avg, members, ylim, ystep,
                   zero_line=False, threshold=None):
    header(n, title)
    steps = np.arange(len(control))
    ax = make_axes(n, 28.3, (0, steps[-1] + 0.03), ylim, ystep)
    ax.set_xticks(steps)
    ax.set_xticklabels([day_labels[k // 4] if k % 4 == 0 else "" for k in steps])
    ax.vlines(steps[2::4], *ylim, color=DAYLINE, lw=1.0, zorder=1.5)
    for m in members:
        ax.plot(steps, m, color=MEMBER, lw=0.85, alpha=0.45, zorder=2)
    if zero_line:
        ax.axhline(0, color="black", lw=1.7, zorder=2.5)
    if threshold is not None:
        ax.axhline(threshold, color=TEAL, lw=1.3, ls=(0, (1, 1.6)), zorder=2.5)
    ax.plot(steps, control, color=BLUE, lw=2.1, zorder=3, solid_joinstyle="miter")
    ax.plot(steps, avg, color=RED, lw=2.0, ls=(0, (1, 0.55)), zorder=4)
    return ax


ensemble_panel(0, "Temperatuur 2m", temp_control, temp_avg, temp_members,
               (-20, 15), 5, zero_line=True)
ensemble_panel(1, "Dauwpunt 2m", dew_control, dew_avg, dew_members, (-20, 15), 5)
ensemble_panel(2, "Neerslag", rain_control, rain_avg, rain_members, (0, 20), 2)
ensemble_panel(3, "10m wind", wind_control, wind_avg, wind_members, (0, 18), 2,
               threshold=wind_threshold)
ensemble_panel(4, "10m windstoten", gust_control, gust_avg, gust_members, (0, 24), 2,
               threshold=gust_threshold)

# ---------------------------------------------------------------- cloud cover
header(5, "Bedekkingsgraad", cloud=True)
steps = np.arange(len(cloud_control))
ax = make_axes(5, 23.3, (-0.5, steps[-1] + 0.05), (0, 100), 10)
ax.set_xticks(steps + 0.5)
ax.set_xticklabels([cloud_day_labels[k // 4]
                    if k % 4 == 3 and k // 4 < len(cloud_day_labels) else ""
                    for k in steps])
ax.vlines(steps[::4] + 0.5, 0, 100, color=DAYLINE, lw=1.0, zorder=1.5)
q25 = np.array(cloud_q25)
q75 = np.array(cloud_q75)
ax.bar(steps, q75 - q25, bottom=q25, width=0.75, color="#fbfbb2",
       edgecolor="#c2c2c2", lw=0.9, zorder=2)
ax.hlines(cloud_median, steps - 0.375, steps + 0.375, color="#3a3a14", lw=0.9, zorder=3)
ax.plot(steps, cloud_control, color=BLUE, lw=4.0, alpha=0.22, zorder=4)
ax.plot(steps, cloud_control, color=BLUE, lw=1.6, zorder=5)

fig.savefig("out.png", dpi=100)
